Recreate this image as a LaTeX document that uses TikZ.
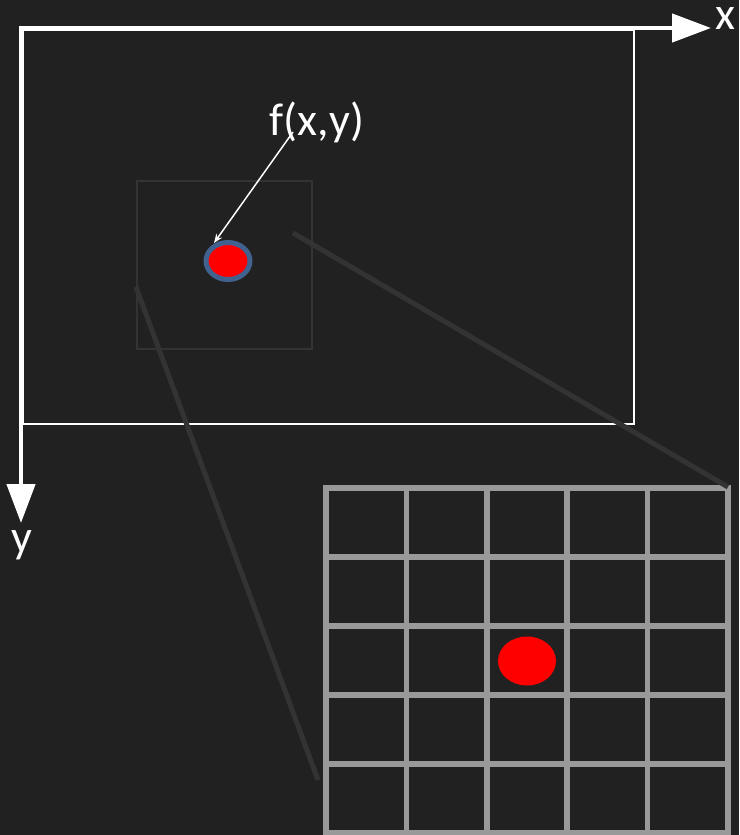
\documentclass[tikz,border=0pt]{standalone}
\usepackage{fontspec}
\setmainfont{Carlito}
\usetikzlibrary{shapes.geometric,arrows.meta}
\definecolor{bg}{HTML}{212121}
\definecolor{zoomline}{HTML}{333333}
\definecolor{gridgray}{HTML}{999999}
\definecolor{ringblue}{HTML}{41618F}
\begin{document}
\begin{tikzpicture}[x=1pt,y=-1pt,
  axis/.style={white, line width=4.5pt, line join=miter},
  label/.style={text=white, font=\fontsize{46}{46}\selectfont, inner sep=0pt, anchor=base},
  frame/.style={white, line width=1.5pt},
  zoombox/.style={zoomline, line width=1.2pt},
  zoomray/.style={zoomline, line width=5pt},
  gridline/.style={gridgray, line width=5.5pt, line cap=rect},
  pointer/.style={white, line width=1.5pt, -{Stealth[length=9pt,width=7pt]}}]
\fill[bg] (0,0) rectangle (739,835);
\useasboundingbox (0,0) rectangle (739,835);

% frame and zoom box
\draw[frame] (23,30) rectangle (634,424);
\draw[zoombox] (137,181) rectangle (312,349);

% axes
\coordinate (O) at (21,28);
\coordinate (xend) at (711,28);
\coordinate (yend) at (21,523);
\draw[axis, {Triangle[length=39pt,width=28pt]}-{Triangle[length=39pt,width=28pt]}] (xend) -- (O) -- (yend);
\node[label, text height=22pt, text depth=0pt] (xl) at (725,29) {x};
\node[label] (yl) at (22,552) {y};

% grid
\foreach \i in {0,...,5} {
  \draw[gridline] ({326+80.4*\i},488) -- ({326+80.4*\i},833);
  \draw[gridline] (326,{488+69*\i}) -- (728,{488+69*\i});
}
\node[ellipse, fill=red, minimum width=58pt, minimum height=49pt, inner sep=0pt] (gpt) at (527,661) {};

% zoom rays
\coordinate (r1a) at (293,233);
\coordinate (r1b) at (728,487);
\coordinate (r2a) at (136,287);
\coordinate (r2b) at (318,780);
\draw[zoomray] (r1a) -- (r1b);
\draw[zoomray] (r2a) -- (r2b);

% point and label
\node[ellipse, draw=ringblue, fill=red, line width=5pt, minimum width=44pt, minimum height=37pt, inner sep=0pt] (pt) at (228,261) {};
\node[label] (f) at (317,135) {f(x,y)};
\coordinate (fa) at (293,132);
\coordinate (fb) at (214,243);
\draw[pointer] (fa) -- (fb);
\end{tikzpicture}
\end{document}
